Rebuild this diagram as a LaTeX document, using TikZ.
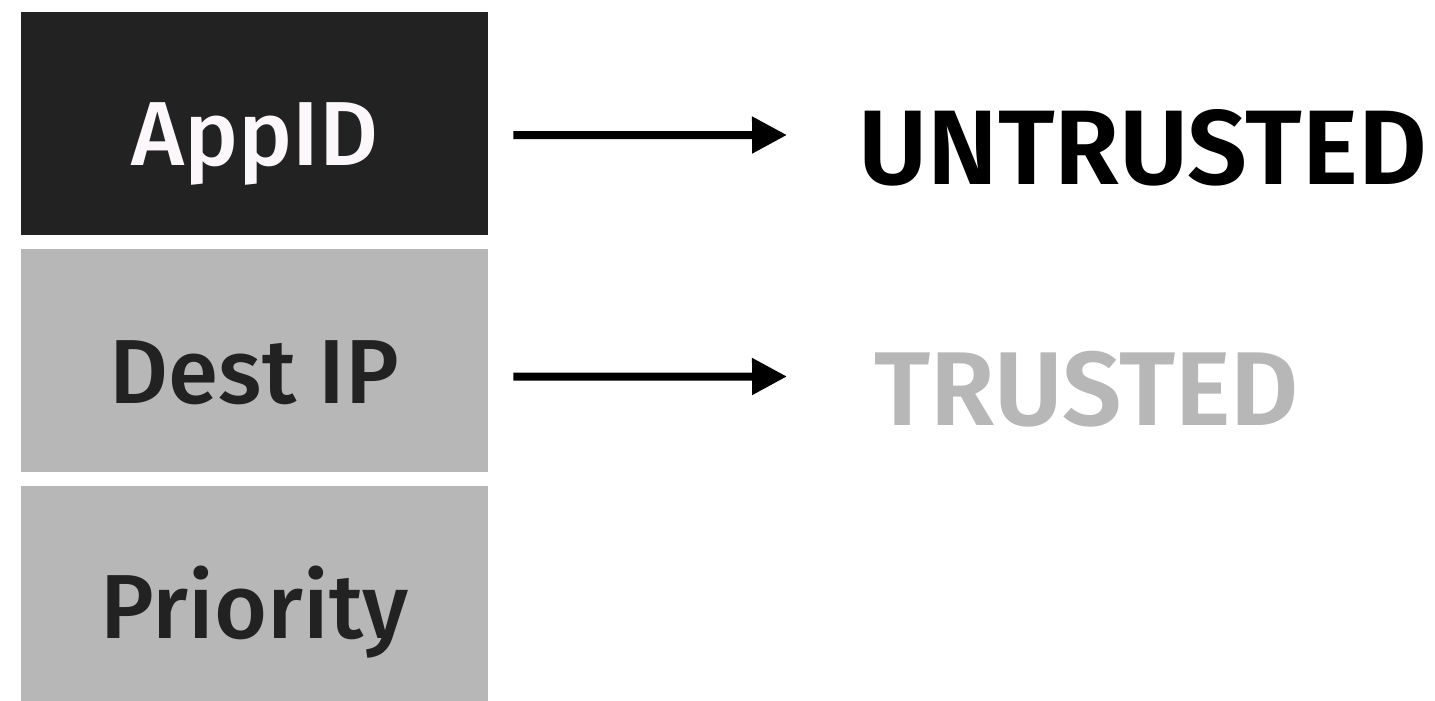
\documentclass[tikz,border=0pt]{standalone}
\usepackage{fontspec}
\setmainfont{Fira Sans}
\newfontfamily\labfont{Fira Sans SemiBold}
\newfontfamily\fieldfont{Fira Sans Medium}
\usetikzlibrary{arrows.meta,calc}
\definecolor{boxdark}{HTML}{222222}
\definecolor{boxgrey}{HTML}{B7B7B7}
\definecolor{inktext}{HTML}{222222}
\definecolor{paletext}{HTML}{FBF7FB}
\begin{document}
\begin{tikzpicture}[x=1pt,y=-1pt,
  field/.style={rectangle,inner sep=0pt,minimum width=467pt,minimum height=223pt,
    text depth=0pt,font=\fieldfont\fontsize{91}{91}\selectfont,anchor=north west},
  activefield/.style={field,fill=boxdark,text=paletext},
  idlefield/.style={field,fill=boxgrey,text=inktext},
  verdict/.style={inner sep=0pt,anchor=base west,font=\labfont\fontsize{106}{106}\selectfont},
  arr/.style={line width=8pt,-{Triangle[length=35pt,width=35pt]}}]
\useasboundingbox (0,0) rectangle (1435,701);
\fill[white] (0,0) rectangle (1435,701);
% rule fields
\node[activefield,text height=83pt] (appid) at (21,12) {AppID};
\node[idlefield,text height=85pt] (destip) at (21,249) {Dest IP};
\node[idlefield,text height=89pt,minimum height=215pt] (priority) at (21,486) {Priority};
% verdicts
\node[verdict,text=black] (untrusted) at (858,184) {UNTRUSTED};
\node[verdict,text=boxgrey,font=\labfont\fontsize{105}{105}\selectfont] (trusted) at (874,425) {TRUSTED};
% connectors
\draw[arr] ($(appid.east)+(25,11.5)$) -- ($(untrusted.west |- 0,135)+(-71,0)$);
\draw[arr] ($(destip.east)+(25,16)$) -- ($(trusted.west |- 0,376.5)+(-87,0)$);
\end{tikzpicture}
\end{document}
